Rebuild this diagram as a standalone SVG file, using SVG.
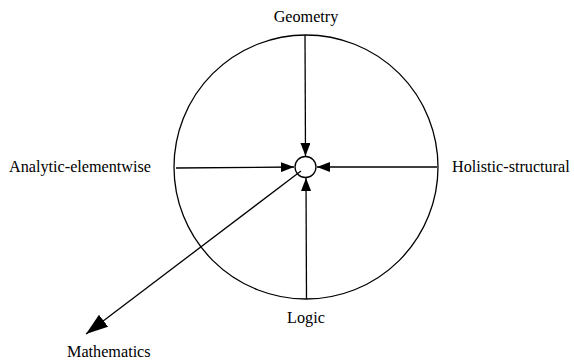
<svg xmlns="http://www.w3.org/2000/svg" width="574" height="362" viewBox="0 0 574 362">
<defs>
<marker id="ah" viewBox="0 0 13 10" refX="13" refY="5" markerWidth="13" markerHeight="10" markerUnits="userSpaceOnUse" orient="auto">
<path d="M0,0 L13,5 L0,10 Z" fill="#000"/>
</marker>
<marker id="ahb" viewBox="0 0 22 15" refX="22" refY="7.5" markerWidth="22" markerHeight="15" markerUnits="userSpaceOnUse" orient="auto">
<path d="M0,0 L22,7.5 L0,15 Z" fill="#000"/>
</marker>
</defs>
<style>
text{font-family:"Liberation Serif","Times New Roman",serif;font-size:16.2px;fill:#000}
.ln{stroke:#000;stroke-width:1.3;fill:none}
</style>
<g id="outer-circle"><circle cx="306" cy="167" r="132" class="ln"/></g>
<g id="center"><circle cx="305.5" cy="167" r="10.5" class="ln" stroke-width="1.8"/></g>
<g id="connectors">
<line x1="305" y1="35" x2="305.5" y2="156" class="ln" marker-end="url(#ah)"/>
<line x1="306.5" y1="299" x2="306" y2="178" class="ln" marker-end="url(#ah)"/>
<line x1="176" y1="168" x2="294" y2="167" class="ln" marker-end="url(#ah)"/>
<line x1="437" y1="167" x2="317" y2="167" class="ln" marker-end="url(#ah)"/>
<line x1="301" y1="171" x2="86" y2="334" class="ln" stroke-width="1.6" marker-end="url(#ahb)"/>
</g>
<g id="geometry"><text x="306" y="22" text-anchor="middle">Geometry</text></g>
<g id="holistic"><text x="452" y="172">Holistic-structural</text></g>
<g id="analytic"><text x="9" y="172">Analytic-elementwise</text></g>
<g id="logic"><text x="306" y="323" text-anchor="middle">Logic</text></g>
<g id="mathematics"><text x="67" y="357">Mathematics</text></g>
</svg>
